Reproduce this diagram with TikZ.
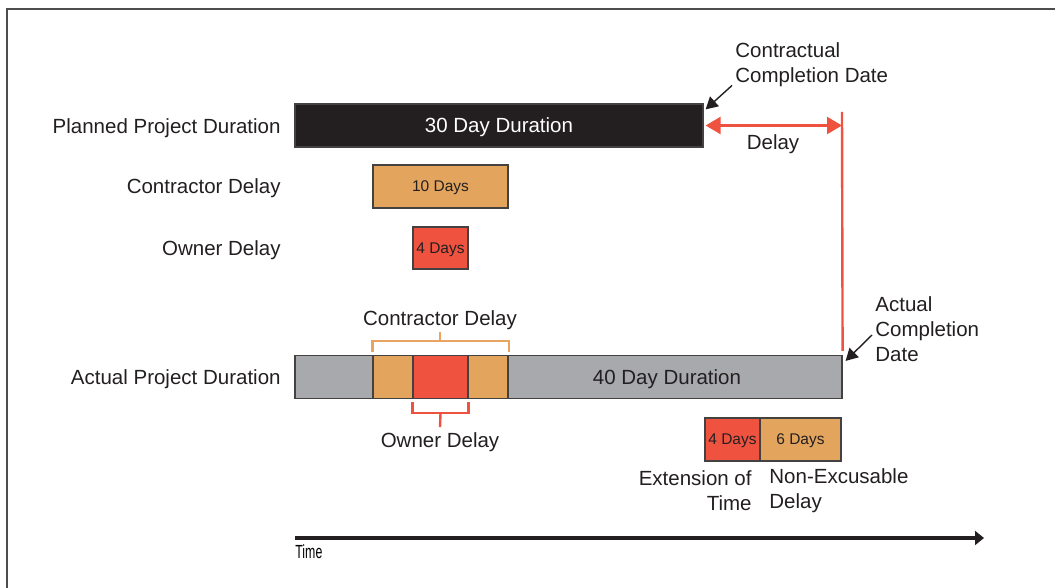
\documentclass[tikz,border=0pt]{standalone}
\usepackage{fontspec}
\setmainfont{Liberation Sans}
\newfontfamily\timefont[FakeStretch=0.65]{Liberation Sans}
\usetikzlibrary{arrows.meta}
\definecolor{barblack}{HTML}{231F20}
\definecolor{barorange}{HTML}{E3A55E}
\definecolor{barred}{HTML}{EF5340}
\definecolor{bargray}{HTML}{A7A9AC}
\definecolor{lineorange}{HTML}{E9A463}

\begin{document}
\begin{tikzpicture}[x=0.5pt,y=-0.5pt,
  lbl/.style={font=\fontsize{10.25}{12.5}\selectfont,text=barblack,inner sep=0pt,yshift=-1pt},
  small/.style={font=\fontsize{7.75}{9}\selectfont,text=barblack},
  bar/.style={draw=barblack!85,line width=0.6pt,minimum height=21.5pt,inner sep=0pt,text depth=0pt},
  redline/.style={barred,line width=1.2pt},
  callout/.style={barblack,line width=0.7pt,-{Triangle[length=6pt,width=6.5pt]}}]
\useasboundingbox (0,0) rectangle (1055,588);
\draw[barblack!80,line width=0.7pt] (7,588) |- (1055,9);

\node[lbl,anchor=east](ppd) at (281,126) {Planned Project Duration};
\node[lbl,anchor=east](cdl) at (281,186) {Contractor Delay};
\node[lbl,anchor=east](odl) at (281,248) {Owner Delay};
\node[lbl,anchor=east](apd) at (281,377) {Actual Project Duration};

\node[bar,fill=barblack,font=\fontsize{10.25}{12.5}\selectfont,text=white,minimum width=204pt](planned) at (499,125.5) {30 Day Duration};
\node[bar,small,fill=barorange,minimum width=67.5pt](cd) at (440.5,186.5) {10 Days};
\node[bar,small,fill=barred,minimum width=27.5pt,minimum height=21pt](od) at (440.5,248) {4 Days};

\node[bar,fill=bargray,minimum width=273.5pt](actual) at (568.5,377) {};
\node[lbl](adur) at (667,377) {40 Day Duration};
\node[bar,fill=barorange,minimum width=20pt](c1) at (393,377) {};
\node[bar,fill=barred,minimum width=27.5pt](o2) at (440.5,377) {};
\node[bar,fill=barorange,minimum width=20pt](c2) at (488,377) {};

\node[lbl](cdt) at (440,318) {Contractor Delay};
\draw[lineorange,line width=1.1pt] ([yshift=1.5pt]c1.north west) -- ++(0,5.5pt) -| ([yshift=1.5pt]c2.north east);
\draw[lineorange,line width=1.1pt] ([yshift=-1pt]cdt.south) -- ([yshift=7pt]cdt.south |- c1.north);
\node[lbl](odt) at (440,440) {Owner Delay};
\draw[redline] ([yshift=-1.5pt]o2.south west) -- ++(0,-5.5pt) -| ([yshift=-1.5pt]o2.south east);
\draw[redline] ([yshift=-7pt]o2.south) -- ([yshift=2.5pt]odt.north);

\coordinate (redtop) at (842,112);
\draw[redline] (redtop) -- ([yshift=2pt]actual.north east);
\draw[redline,{Triangle[length=7.5pt,width=8.5pt]}-{Triangle[length=7.5pt,width=8.5pt]}] ([xshift=1pt]planned.east) -- (planned.east -| redtop);
\node[lbl](dl) at (773,142) {Delay};

\node[lbl,anchor=west,align=left](ccd) at (735,63) {Contractual\\Completion Date};
\draw[callout] ([xshift=-1.5pt,yshift=1pt]ccd.south west) -- ([xshift=1pt,yshift=-3pt]planned.north east);
\node[lbl,anchor=west,align=left](acd) at (875,327) {Actual\\Completion\\Date};
\draw[callout] ([xshift=-1.5pt,yshift=-3pt]acd.west) -- ([xshift=1.5pt,yshift=-3pt]actual.north east);

\node[bar,small,fill=barred,minimum width=27.5pt](ext) at (732.5,439.5) {4 Days};
\node[bar,small,fill=barorange,minimum width=40.5pt](nex) at (800.5,439.5) {6 Days};
\node[lbl,anchor=east,align=right](eotl) at (752,488.5) {Extension of\\Time};
\node[lbl,anchor=west,align=left](nexl) at (769,488.5) {Non-Excusable\\Delay};

\coordinate (t0) at (295,538);
\coordinate (t1) at (984,538);
\draw[barblack,line width=1.6pt,-{Triangle[length=4.5pt,width=7pt]}] (t0) -- (t1);
\node[anchor=west,inner sep=0pt,font=\timefont\fontsize{9.5}{11}\selectfont](tl) at (295,552) {Time};
\end{tikzpicture}
\end{document}
